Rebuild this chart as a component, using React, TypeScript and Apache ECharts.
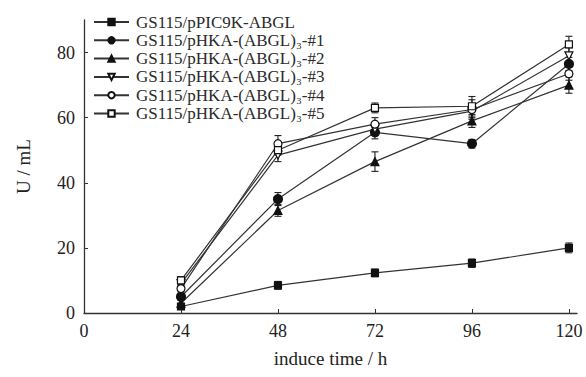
import React, { useEffect, useRef } from "react";
import * as echarts from "echarts";

const hours = [24, 48, 72, 96, 120];
const xTicks = [0, 24, 48, 72, 96, 120];
const yTicks = [0, 20, 40, 60, 80];

const seriesNames = [
  "GS115/pPIC9K-ABGL",
  "GS115/pHKA-(ABGL)\u2083-#1",
  "GS115/pHKA-(ABGL)\u2083-#2",
  "GS115/pHKA-(ABGL)\u2083-#3",
  "GS115/pHKA-(ABGL)\u2083-#4",
  "GS115/pHKA-(ABGL)\u2083-#5",
];

const pPIC9K = [2, 8.5, 12.3, 15.3, 20];
const hka1 = [5, 35, 55.5, 52, 76.5];
const hka2 = [3, 31.5, 46.5, 59, 70];
const hka3 = [9, 48.5, 56.5, 62, 79];
const hka4 = [7.5, 52, 58, 62.5, 73.5];
const hka5 = [10, 50, 63, 63.5, 82.5];

const errPIC9K = [0.8, 1.2, 1.2, 1.3, 1.5];
const err1 = [1, 2, 2, 1.3, 2];
const err2 = [1, 1.8, 3, 2, 2.5];
const err3 = [1, 2, 2, 2, 2.5];
const err4 = [1, 2.5, 2, 3, 2];
const err5 = [1.2, 1.5, 1.5, 3, 2.5];

const values = [pPIC9K, hka1, hka2, hka3, hka4, hka5];
const errors = [errPIC9K, err1, err2, err3, err4, err5];

const FONT = "'Liberation Serif', 'Times New Roman', serif";

const symbolStyles = [
  { symbol: "rect", size: 7, fill: "#111", rotate: 0 },
  { symbol: "circle", size: 9, fill: "#111", rotate: 0 },
  { symbol: "triangle", size: 8, fill: "#111", rotate: 0 },
  { symbol: "triangle", size: 8, fill: "#fff", rotate: 180 },
  { symbol: "circle", size: 8, fill: "#fff", rotate: 0 },
  { symbol: "rect", size: 7, fill: "#fff", rotate: 0 },
];

export default function App() {
  const ref = useRef<HTMLDivElement>(null);
  useEffect(() => {
    if (!ref.current) return;
    const chart = echarts.init(ref.current, undefined, { renderer: "svg" });

    const lineSeries = values.map((vals, i) => ({
      name: seriesNames[i],
      type: "line",
      data: hours.map((h, j) => [h, vals[j]]),
      symbol: symbolStyles[i].symbol,
      symbolSize: symbolStyles[i].size,
      symbolRotate: symbolStyles[i].rotate,
      lineStyle: { color: "#333", width: 1.2 },
      itemStyle: { color: symbolStyles[i].fill, borderColor: "#111", borderWidth: 1.2 },
      z: 3,
    }));

    const errorSeries = values.map((vals, i) => ({
      type: "custom",
      name: seriesNames[i] + " err",
      data: hours.map((h, j) => [h, vals[j] - errors[i][j], vals[j] + errors[i][j]]),
      renderItem: (params: any, api: any) => {
        const x = api.value(0);
        const lo = api.coord([x, api.value(1)]);
        const hi = api.coord([x, api.value(2)]);
        const w = 3.5;
        const style = { stroke: "#222", lineWidth: 1.1 };
        return {
          type: "group",
          children: [
            { type: "line", shape: { x1: lo[0], y1: lo[1], x2: hi[0], y2: hi[1] }, style },
            { type: "line", shape: { x1: lo[0] - w, y1: lo[1], x2: lo[0] + w, y2: lo[1] }, style },
            { type: "line", shape: { x1: hi[0] - w, y1: hi[1], x2: hi[0] + w, y2: hi[1] }, style },
          ],
        };
      },
      z: 2,
      silent: true,
    }));

    chart.setOption({
      animation: false,
      backgroundColor: "#fff",
      textStyle: { fontFamily: FONT },
      grid: { left: 84, right: 9, top: 20, bottom: 64 },
      legend: {
        data: seriesNames,
        orient: "vertical",
        left: 93,
        top: 13,
        padding: 0,
        itemWidth: 35,
        itemHeight: 8,
        itemGap: 0.3,
        textStyle: { fontFamily: FONT, fontSize: 17, lineHeight: 18, color: "#2a2a2a", padding: [0, 0, 0, 2] },
      },
      xAxis: {
        type: "value",
        min: 0,
        max: 122,
        interval: 24,
        name: "induce time / h",
        nameLocation: "middle",
        nameGap: 36,
        nameTextStyle: { fontFamily: FONT, fontSize: 19, color: "#222" },
        axisLine: { lineStyle: { color: "#333", width: 1.3 } },
        axisTick: { inside: true, length: 4, customValues: xTicks, lineStyle: { color: "#333" } },
        axisLabel: {
          customValues: xTicks,
          fontFamily: FONT,
          fontSize: 18,
          color: "#222",
          margin: 9,
        },
        splitLine: { show: false },
      },
      yAxis: {
        type: "value",
        min: 0,
        max: 90,
        interval: 20,
        name: "U / mL",
        nameLocation: "middle",
        nameGap: 51,
        nameRotate: 90,
        nameTextStyle: { fontFamily: FONT, fontSize: 19, color: "#222" },
        axisLine: { show: true, lineStyle: { color: "#333", width: 1.3 } },
        axisTick: { show: true, inside: true, length: 4, customValues: yTicks, lineStyle: { color: "#333" } },
        axisLabel: {
          customValues: yTicks,
          fontFamily: FONT,
          fontSize: 18,
          color: "#222",
          margin: 9,
        },
        splitLine: { show: false },
      },
      series: [...errorSeries, ...lineSeries],
    });

    return () => chart.dispose();
  }, []);

  return <div ref={ref} style={{ width: 586, height: 377, position: "absolute", left: 0, top: 0 }} />;
}
